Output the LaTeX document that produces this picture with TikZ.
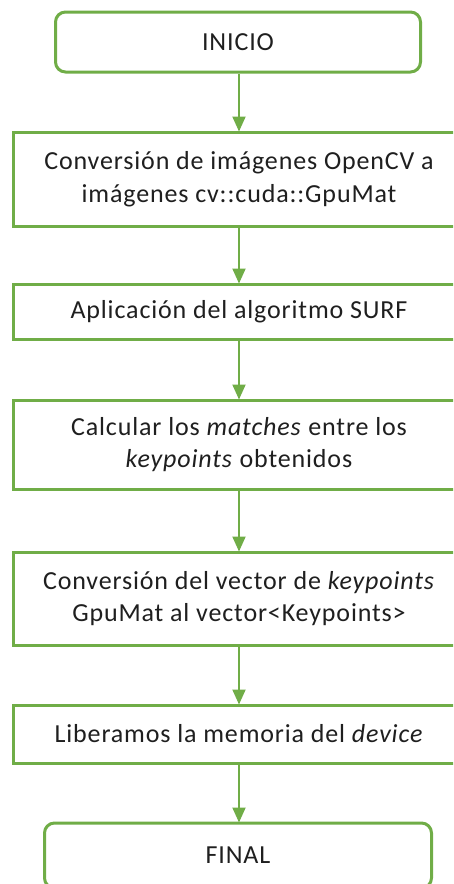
\documentclass[tikz,border=0pt]{standalone}
\usepackage{fontspec}
\setmainfont{Carlito}[LetterSpace=3.3]
\usetikzlibrary{arrows.meta}
\definecolor{flowgreen}{HTML}{70AD47}
\definecolor{txt}{HTML}{1F1F1F}
\tikzset{
  x=1pt, y=1pt,
  procbox/.style={draw=flowgreen, line width=3pt, fill=white, inner sep=0pt,
    minimum width=452pt, align=center, text=txt,
    font=\fontsize{26}{32.5}\selectfont},
  termbox/.style={procbox, rounded corners=10pt},
  flowarrow/.style={draw=flowgreen, line width=2pt,
    -{Triangle[length=15pt, width=13pt]}, shorten >=-1pt}
}
\begin{document}
\begin{tikzpicture}
\useasboundingbox (0,0) rectangle (453,-884);
\clip (0,0) rectangle (453,-884);
\node[termbox, minimum width=365pt, minimum height=60pt] (inicio) at (238,-42) {INICIO};
\node[procbox, minimum height=94pt] (conv) at (239,-179)
  {Conversión de imágenes OpenCV a\\imágenes cv::cuda::GpuMat};
\node[procbox, minimum height=55pt] (surf) at (239,-311.5)
  {Aplicación del algoritmo SURF};
\node[procbox, minimum height=89pt] (match) at (239,-444.5)
  {Calcular los \textit{matches} entre los\\\textit{keypoints} obtenidos};
\node[procbox, minimum height=93pt] (vec) at (239,-598.5)
  {Conversión del vector de \textit{keypoints}\\GpuMat al vector<Keypoints>};
\node[procbox, minimum height=58pt] (free) at (239,-734)
  {Liberamos la memoria del \textit{device}};
\node[termbox, minimum width=387pt, minimum height=65pt] (final) at (238,-855.5) {FINAL};
\draw[flowarrow] (inicio.south -| conv.north) -- (conv.north);
\draw[flowarrow] (conv) -- (surf);
\draw[flowarrow] (surf) -- (match);
\draw[flowarrow] (match) -- (vec);
\draw[flowarrow] (vec) -- (free);
\draw[flowarrow] (free.south) -- (final.north -| free.south);
\end{tikzpicture}
\end{document}
